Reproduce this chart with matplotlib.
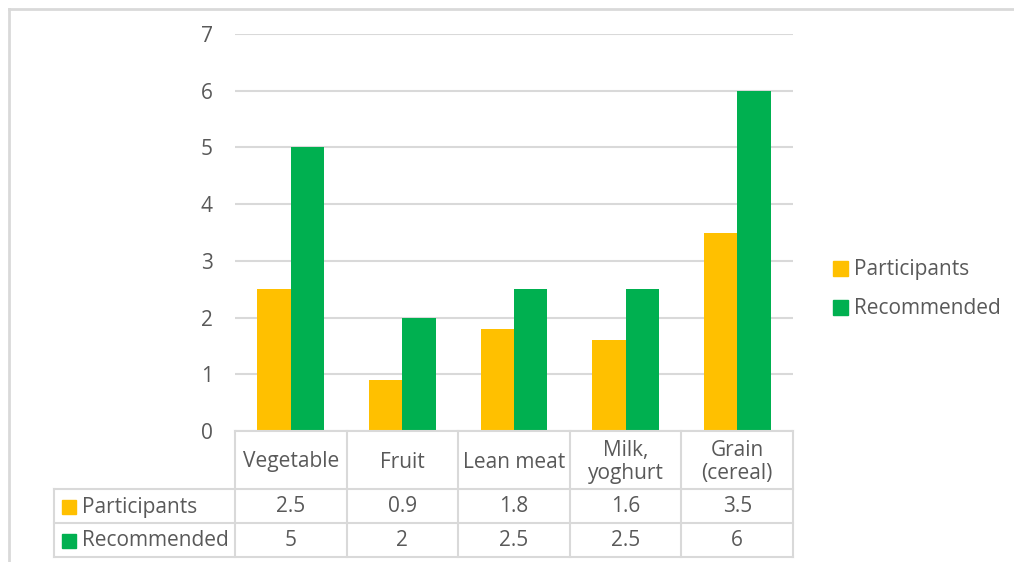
import matplotlib
matplotlib.use("Agg")
import matplotlib.pyplot as plt
from matplotlib.lines import Line2D
from matplotlib.patches import Rectangle
import matplotlib.transforms as mtransforms
import numpy as np

categories = ["Vegetable", "Fruit", "Lean meat", "Milk,\nyoghurt", "Grain\n(cereal)"]
series_names = ["Participants", "Recommended"]
participants = [2.5, 0.9, 1.8, 1.6, 3.5]
recommended = [5, 2, 2.5, 2.5, 6]
participants_labels = ["2.5", "0.9", "1.8", "1.6", "3.5"]
recommended_labels = ["5", "2", "2.5", "2.5", "6"]
yticks = [0, 1, 2, 3, 4, 5, 6, 7]

C_OR = "#FFC000"
C_GR = "#00B050"
GRID = "#D9D9D9"
TXT = "#595959"
FONT = "Open Sans"
FS = 15

W, H = 1014, 562
fig = plt.figure(figsize=(W / 100, H / 100), dpi=100)
fig.patch.set_facecolor("white")

def fx(px):
    return px / W

def fy(py):
    return 1 - py / H

# outer chart border
fig.add_artist(Line2D([fx(9), fx(9)], [fy(9), fy(562)], color=GRID, lw=2, transform=fig.transFigure))
fig.add_artist(Line2D([fx(9), fx(1014)], [fy(9), fy(9)], color=GRID, lw=2, transform=fig.transFigure))

left, right, top, bottom = 235, 793, 34, 431
ax = fig.add_axes([fx(left), fy(bottom), fx(right) - fx(left), fy(top) - fy(bottom)])
x = np.arange(len(categories))
bw = 0.30
ax.bar(x - bw / 2, participants, bw, color=C_OR, zorder=3, label=series_names[0])
ax.bar(x + bw / 2, recommended, bw, color=C_GR, zorder=3, label=series_names[1])
ax.set_xlim(-0.5, len(categories) - 0.5)
ax.set_ylim(0, 7)
ax.set_yticks(yticks)
ax.set_yticklabels([str(t) for t in yticks], fontsize=FS, color=TXT, family=FONT)
ax.tick_params(axis="y", length=0, pad=16)
ax.set_xticks([])
ax.grid(axis="y", color=GRID, lw=1.5, zorder=0)
for s in ax.spines.values():
    s.set_visible(False)

# table
trans = mtransforms.blended_transform_factory(ax.transData, fig.transFigure)
y_hdr_top, y_r1, y_r2, y_bot = 431, 489, 523, 557
x_tab_left = 54
lw_t = 1.5
n = len(categories)
fig.add_artist(Line2D([fx(left), fx(right)], [fy(y_hdr_top)] * 2, color=GRID, lw=lw_t, transform=fig.transFigure, zorder=4))
for yy in (y_r1, y_r2, y_bot):
    fig.add_artist(Line2D([fx(x_tab_left), fx(right)], [fy(yy)] * 2, color=GRID, lw=lw_t, transform=fig.transFigure))
for i in range(n + 1):
    fig.add_artist(Line2D([i - 0.5, i - 0.5], [fy(y_hdr_top), fy(y_bot)], color=GRID, lw=lw_t, transform=trans))
fig.add_artist(Line2D([fx(x_tab_left)] * 2, [fy(y_r1), fy(y_bot)], color=GRID, lw=lw_t, transform=fig.transFigure))

for i, cat in enumerate(categories):
    fig.text(i, fy((y_hdr_top + y_r1) / 2 + 2), cat, transform=trans, ha="center", va="center",
             fontsize=FS, color=TXT, family=FONT, linespacing=1.15)
    fig.text(i, fy((y_r1 + y_r2) / 2 + 1), participants_labels[i], transform=trans, ha="center", va="center",
             fontsize=FS, color=TXT, family=FONT)
    fig.text(i, fy((y_r2 + y_bot) / 2 + 1), recommended_labels[i], transform=trans, ha="center", va="center",
             fontsize=FS, color=TXT, family=FONT)

for name, col, (ya, yb) in zip(series_names, [C_OR, C_GR], [(y_r1, y_r2), (y_r2, y_bot)]):
    yc = (ya + yb) / 2
    fig.add_artist(Rectangle((fx(62), fy(yc + 8)), fx(14), 14 / H, color=col, transform=fig.transFigure))
    fig.text(fx(82), fy(yc + 1), name, ha="left", va="center", fontsize=FS, color=TXT, family=FONT)

for name, col, yc in zip(series_names, [C_OR, C_GR], [269, 308]):
    fig.add_artist(Rectangle((fx(833), fy(yc + 7)), fx(15), 15 / H, color=col, transform=fig.transFigure))
    fig.text(fx(854), fy(yc), name, ha="left", va="center", fontsize=FS, color=TXT, family=FONT)

fig.savefig("out.png", dpi=100, facecolor="white")
